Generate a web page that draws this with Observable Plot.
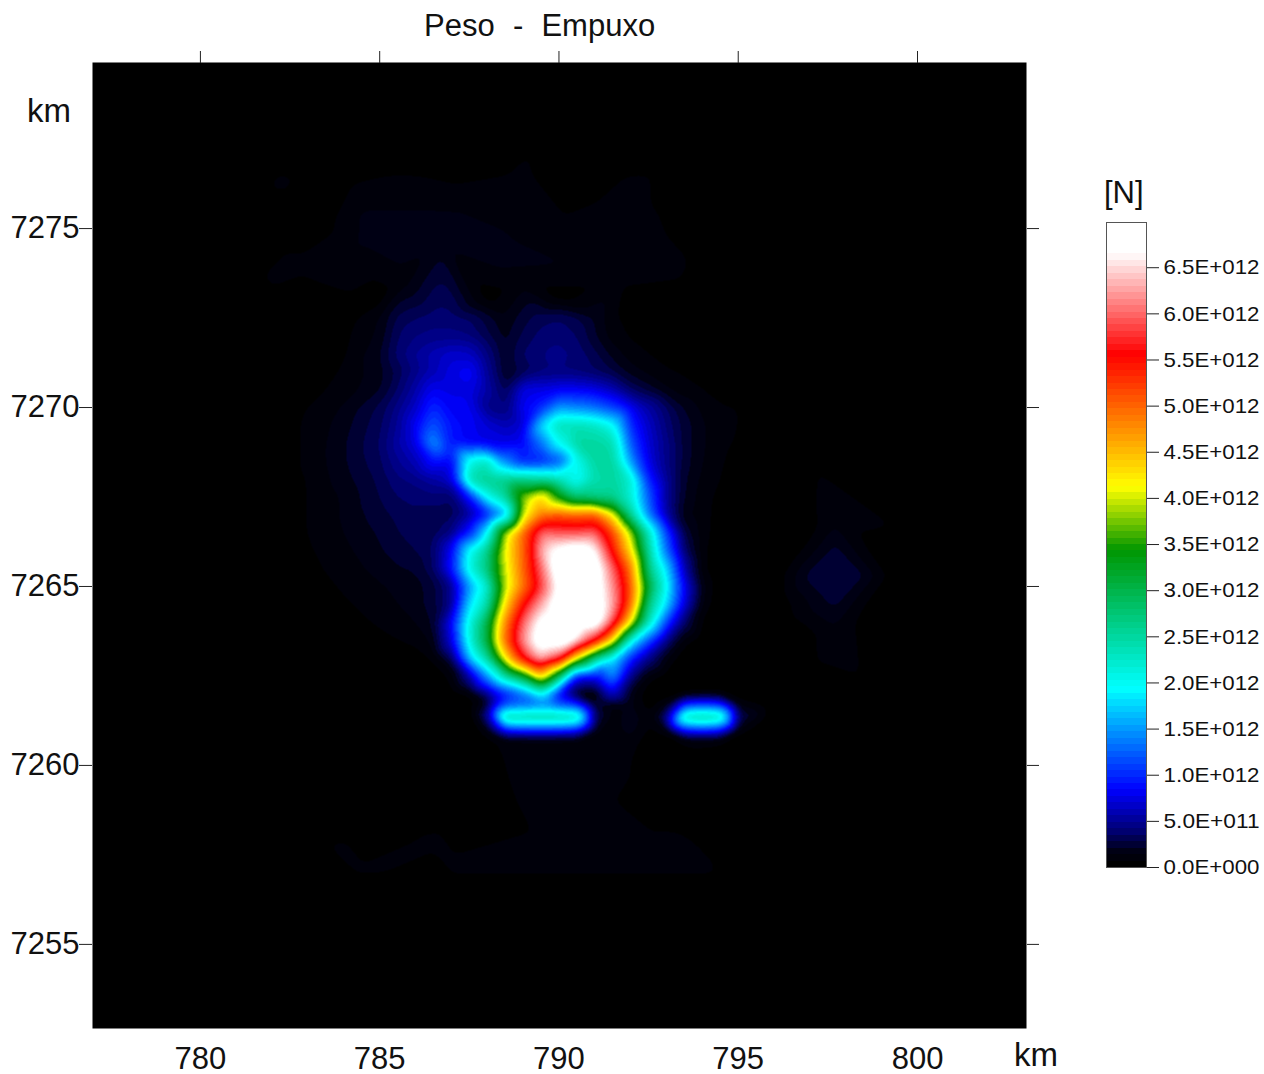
<!DOCTYPE html>
<html><head><meta charset="utf-8">
<style>
html,body{margin:0;padding:0;background:#fff;overflow:hidden}
#wrap{position:relative;width:1264px;height:1074px;font-family:"Liberation Sans",Arial,sans-serif;color:#111}
#wrap svg{position:absolute;background:transparent;overflow:visible}
.lbl{position:absolute;white-space:pre;line-height:1;font-size:31px}
</style>
<script src="https://cdn.jsdelivr.net/npm/d3@7"></script>
<script src="https://cdn.jsdelivr.net/npm/@observablehq/plot@0.6"></script>
</head><body><div id="wrap">
<div class="lbl" style="left:424px;top:10px;word-spacing:.5px">Peso  -  Empuxo</div>
<div class="lbl" style="left:27px;top:94px;font-size:33px">km</div>
<div class="lbl" style="left:1014px;top:1038px;font-size:33px">km</div>
<div class="lbl" style="left:1104px;top:177px;">[N]</div>
</div>
<script>
// Values are force in units of 1E+012 N.
const gridX = [783,784,785,785.5,786,786.5,787,787.5,788,788.5,789,789.5,790,790.5,791,791.5,792,792.5,793,793.5,794,794.5,795,796];
const gridY = [7272.5,7272,7271.5,7271,7270.5,7270,7269.5,7269,7268.5,7268,7267.5,7267,7266.5,7266,7265.5,7265,7264.5,7264,7263.5,7263,7262.5,7262,7261.7,7261.35,7261,7260.75];
const row00 = [0,.03,.14,.3,.35,.38,.38,.35,.25,.15,.25,.32,.35,.3,.2,.08,.05,.03,0,0,0,0,0,0];
const row01 = [0,.05,.16,.35,.42,.45,.45,.42,.3,.18,.3,.38,.4,.35,.22,.1,.06,.04,0,0,0,0,0,0];
const row02 = [0,.06,.2,.38,.5,.6,.68,.65,.42,.2,.36,.42,.45,.4,.3,.18,.1,.07,.04,.02,.01,0,0,0];
const row03 = [.02,.08,.18,.3,.45,.6,.75,.85,.5,.2,.3,.4,.42,.4,.35,.28,.18,.12,.08,.06,.04,.02,0,0];
const row04 = [.04,.1,.2,.35,.55,.8,.75,.75,.55,.3,.75,.75,.8,.8,.75,.6,.35,.25,.15,.1,.07,.04,.02,0];
const row05 = [.07,.15,.3,.45,.65,1,.8,.8,.45,.4,.8,1,1.5,1.4,1.3,1.1,.8,.55,.35,.2,.12,.08,.07,0];
const row06 = [.08,.18,.33,.5,.8,1.2,.9,.8,.7,.6,.7,1.8,2.4,2.4,2.3,2,1,.65,.4,.25,.15,.09,.07,0];
const row07 = [.08,.2,.35,.55,.75,1.5,.9,.8,.75,.75,.8,1.3,2,2.5,2.5,2.4,1.2,.7,.45,.25,.15,.09,.06,0];
const row08 = [.08,.2,.33,.48,.6,.9,.8,2.1,2.3,1.4,.9,.9,1.1,2,2.5,2.5,1.5,.75,.45,.25,.14,.08,.04,0];
const row09 = [.07,.18,.3,.4,.45,.55,.7,2.4,2.6,2.6,2.6,2.5,2.3,1.9,2.4,2.5,2.2,.95,.5,.22,.12,.07,.02,0];
const row10 = [.07,.15,.28,.35,.38,.4,.35,.9,2,2.5,3.8,4.4,3.4,2.7,2.6,2.6,2.2,1.2,.5,.2,.1,.05,0,0];
const row11 = [.07,.15,.25,.3,.33,.3,.3,.5,.9,1.5,4,4.9,5.1,5,5.1,4.2,2.6,1.4,.55,.15,.1,.04,0,0];
const row12 = [.07,.14,.22,.28,.3,.3,.42,.9,1.9,3.9,5,6,5.9,5.9,6,5.2,3.9,2.3,1.1,.25,.1,.03,0,0];
const row13 = [.06,.12,.2,.25,.28,.35,.8,2,2.6,4.1,5,6.3,6.8,7,6.7,5.5,4.3,2.5,1.3,.35,.08,.02,0,0];
const row14 = [.05,.1,.17,.2,.22,.35,.9,2.1,2.7,4,5,6,7,7,7,6,4.9,2.7,1.8,.55,.08,0,0,0];
const row15 = [.03,.08,.13,.16,.18,.25,.45,1.5,2.2,3.9,4.9,5.8,6.8,7,7,6.2,5.1,3.1,2,.8,.15,.02,0,0];
const row16 = [.02,.06,.1,.14,.18,.25,.45,1.8,2.4,4.3,5.5,6.3,7,7,7,6.3,5,2.7,1.8,.7,.12,.02,0,0];
const row17 = [0,.04,.08,.1,.14,.22,.8,2.1,3,4.8,6,6.8,7,7,7,5.9,4.2,2.3,1.1,.35,.05,0,0,0];
const row18 = [0,.02,.05,.07,.09,.16,.7,2.1,3.1,5,6.2,7,7,6.6,5.7,4.3,2.1,1.2,.45,.1,.02,0,0,0];
const row19 = [0,0,.01,.02,.03,.08,.3,1.7,2.5,4.2,5.6,6.4,5.9,4.1,2.7,1.9,1,.45,.14,.02,0,0,0,0];
const row20 = [0,0,0,0,.01,.03,.08,.5,1.5,2.5,3.2,4.5,3,.9,.8,1.5,.45,.1,.03,0,0,0,0,0];
const row21 = [0,0,0,0,0,.01,.02,.06,.4,.9,1.3,2,.8,.1,.05,.7,.15,.02,.01,.03,.05,.05,.03,0];
const row22 = [0,0,0,0,0,0,0,.02,.15,1.1,1.2,1.3,1.1,1,.15,.1,.15,.03,.12,1,1.1,1,.1,0];
const row23 = [0,0,0,0,0,0,0,0,.45,2.6,2.6,2.6,2.6,2.5,.35,.1,.2,.08,.45,2.5,2.6,2.5,.35,0];
const row24 = [0,0,0,0,0,0,0,0,.15,1,1.1,1.1,1.1,1,.15,.1,.18,.05,.12,1,1.1,1,.1,0];
const row25 = [0,0,0,0,0,0,0,0,.05,.1,.1,.1,.1,.1,.09,.08,.12,.03,.02,.08,.1,.08,.02,0];
const rows = [row00,row01,row02,row03,row04,row05,row06,row07,row08,row09,row10,row11,row12,row13,row14,row15,row16,row17,row18,row19,row20,row21,row22,row23,row24,row25];

// The faint haze outside that grid: corners, top haze, right spot, bottom trapezoid
const hazeX = [777,803,777,803,790,790,777,803,780,800,
  782.2,785.6,788.9,792.3, 784.5,786.7,791.2,792.3, 784.5,786.7,788.4,790,792.55, 782.8,785.6,788.4,789.8,791.7,793.4, 781.95,785.6,788.9,791.7,793.4,
  781.7,784,787.5,790.5,793.4,781.1,783.07,794.5,794.8,780.8, 785,788,790,792,
  782,781.7, 796.5,797.7,797,798.4,797.7,797.7,796.4,799,797.7,797.7,799.5,
  784.46,786.97,789.76,792.55,794.2, 786.4,789.76,792.55,793.4, 789.2,791.2, 788.93,791.7,
  784.2,786.97,789.76,792.55,794.8, 784.74,785.6,793.6,794.8, 787.5,792.8, 787.25,793.1,794.8];
const hazeY = [7279.6,7279.6,7252.7,7252.7,7279.6,7252.7,7266,7266,7260,7260,
  7276.34,7276.34,7276.34,7276.34, 7275.36,7275.36,7275.36,7275.36, 7274.66,7274.66,7274.66,7274.66,7274.66, 7274.05,7274.05,7274.05,7274.05,7274.05,7274.05, 7273.55,7273.55,7273.55,7273.55,7273.55,
  7277,7277,7277,7277,7277,7275.36,7275.1,7275.36,7273.55,7273.4, 7273.07,7273.07,7273.07,7273.07,
  7270,7267, 7266,7265.3,7265.3,7265.3,7266,7264.6,7265.3,7265.3,7267,7263.6,7265.3,
  7257.07,7257.07,7257.07,7257.07,7257.07, 7257.9,7257.9,7257.9,7257.9, 7259,7259, 7259.8,7259.8,
  7256.6,7256.6,7256.6,7256.6,7256.6, 7257.9,7258.6,7258.6,7257.9, 7259,7259, 7259.8,7259.8,7260];
const hazeV = [0,0,0,0,0,0,0,0,0,0,
  .09,.09,.09,.09, .15,.15,.09,.09, .15,.16,.15,.1,.09, .09,.15,.16,.15,.1,.08, .08,.09,.09,.09,.07,
  0,0,0,0,0,0,0,0,0,0, .03,.03,.03,.03,
  .03,.02, .02,.28,.24,.24,.24,.24,.1,.1,.1,.1,0,
  .09,.09,.09,.09,.09, .09,.09,.09,.09, .09,.09, .09,.09,
  0,0,0,0,0, 0,0,0,0, 0,0, 0,0,0];

const colorValues = [0,.07,.14,.35,.8,1.9,3.4,4.08,5.52,6.62,7];
const colorStops = ["#000000","#00000a","#000014","#000070","#0000ff","#00ffff","#009600","#ffff00","#ff0000","#ffffff","#ffffff"];
const bandStep = .07;

const xTicks = [780,785,790,795,800];
const yTicks = [7255,7260,7265,7270,7275];
const barTicks = [0,.5,1,1.5,2,2.5,3,3.5,4,4.5,5,5.5,6,6.5];
const barLabels = ["0.0E+000","5.0E+011","1.0E+012","1.5E+012","2.0E+012","2.5E+012","3.0E+012","3.5E+012","4.0E+012","4.5E+012","5.0E+012","5.5E+012","6.0E+012","6.5E+012"];
const barBands = d3.range(0,7,bandStep);

const points = [];
rows.forEach((r,j)=>r.forEach((v,i)=>points.push({x:gridX[i],y:gridY[j],v})));
hazeX.forEach((x,i)=>points.push({x,y:hazeY[i],v:hazeV[i]}));

const colorScale = {type:"linear",domain:colorValues,range:colorStops,clamp:true};
const wrap = document.getElementById("wrap");

// Barycentric interpolation of the read values, softened and cut into the colour bands of the original.
function softInterpolate(index,w,h,X,Y,V){
  const field = Plot.interpolatorBarycentric()(index,w,h,X,Y,V);
  const soft = d3.blur2({data:field,width:w,height:h},4).data;
  return Float64Array.from(soft,v=>Math.floor((v||0)/bandStep)*bandStep);
}

const map = Plot.plot({
  width:1264,height:1074,
  marginLeft:92,marginRight:238,marginTop:62,marginBottom:46,
  style:{fontFamily:"'Liberation Sans',Arial,sans-serif",background:"transparent",color:"#111"},
  x:{domain:[776.99,803.04],axis:null},
  y:{domain:[7252.65,7279.64],axis:null},
  color:colorScale,
  marks:[
    Plot.raster(points,{x:"x",y:"y",fill:"v",interpolate:softInterpolate,pixelSize:1,imageRendering:"auto"}),
    Plot.axisX(xTicks,{anchor:"top",label:null,tickSize:12,tickFormat:()=>"",stroke:"#222"}),
    Plot.axisX(xTicks,{anchor:"bottom",label:null,tickSize:0,tickPadding:18,fontSize:31,tickFormat:d=>String(d)}),
    Plot.axisY(yTicks,{anchor:"left",label:null,tickSize:13,tickPadding:0,fontSize:31,tickFormat:d=>String(d),stroke:"#222"}),
    Plot.axisY(yTicks,{anchor:"right",label:null,tickSize:12,tickFormat:()=>"",stroke:"#222"})
  ]
});
map.style.left="0";map.style.top="0";
wrap.appendChild(map);

const bar = Plot.plot({
  width:174,height:665,
  marginLeft:16,marginRight:118,marginTop:11,marginBottom:9,
  style:{fontFamily:"'Liberation Sans',Arial,sans-serif",background:"transparent",color:"#111"},
  x:{domain:[0,1],axis:null},
  y:{domain:[0,6.99],axis:null},
  color:colorScale,
  marks:[
    Plot.rect(barBands,{x1:0,x2:1,y1:d=>d,y2:d=>Math.min(d+bandStep,6.99),fill:d=>d,shapeRendering:"crispEdges"}),
    Plot.frame({stroke:"#555"}),
    Plot.axisY(barTicks,{anchor:"right",label:null,tickSize:12,tickPadding:5,fontSize:21,stroke:"#222",tickFormat:d=>barLabels[barTicks.indexOf(d)]})
  ]
});
bar.style.left="1090px";bar.style.top="211px";
wrap.appendChild(bar);
d3.select(bar).selectAll("g[aria-label='y-axis tick label'] text").attr("textLength",96).attr("lengthAdjust","spacingAndGlyphs");
</script></body></html>
